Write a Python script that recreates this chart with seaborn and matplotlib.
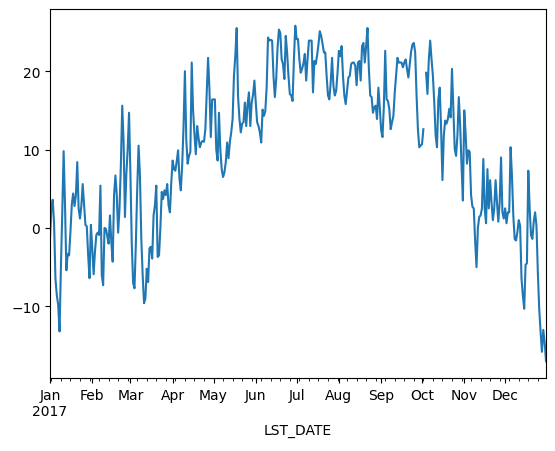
import matplotlib
matplotlib.use("Agg")
import matplotlib.pyplot as plt
import matplotlib.dates as mdates
import numpy as np
import pandas as pd
import seaborn as sns

# daily mean temperature 2017, one list per month (NaN = missing day)
jan = [-1.3, 2.5, 3.6, 0.5, -6.5, -8.6, -9.8, -13.2, -5.0, 2.0, 9.8, 3.0, -5.4,
       -3.3, -3.5, -0.5, 3.0, 4.4, 2.8, 4.2, 8.4, 2.5, 1.2, 2.8, 5.6, 3.0, 0.4,
       0.2, -3.5, -6.4, 0.4]
feb = [-2.6, -5.9, -3.0, -0.9, -0.6, -0.9, 5.4, -6.0, -7.3, 0.0, -0.1, -1.0,
       -2.0, 1.6, -1.8, -4.3, 4.2, 6.7, 4.2, -0.6, 2.5, 8.0, 15.6, 11.0, 1.4,
       6.8, 10.0, 14.7]
mar = [7.0, -2.0, -7.0, -7.7, -2.0, 5.0, 10.5, 6.7, -1.4, -6.0, -9.6, -9.0,
       -5.2, -6.9, -2.6, -2.4, -3.9, 1.6, 2.9, 5.4, -3.7, -3.5, 0.0, 4.6, 3.7,
       4.8, 4.2, 5.6, 2.9, 2.0, 5.8]
apr = [8.6, 7.5, 7.3, 8.5, 9.9, 6.3, 4.8, 8.0, 13.0, 20.0, 11.3, 8.2, 9.2, 9.7,
       21.1, 15.0, 12.0, 9.4, 13.0, 11.5, 10.3, 10.9, 11.1, 11.0, 12.6, 17.3,
       21.7, 17.7, 11.6, 16.4]
may = [16.4, 16.4, 10.0, 8.6, 14.7, 10.0, 7.5, 6.5, 7.1, 8.4, 10.9, 8.9, 11.0,
       12.2, 13.9, 19.4, 22.0, 25.5, 16.8, 14.0, 12.2, 13.3, 13.5, 16.0, 13.0,
       15.8, 17.3, 13.0, 16.0, 17.0, 18.8]
jun = [16.0, 13.5, 13.0, 12.2, 10.9, 15.1, 14.3, 14.9, 18.0, 24.3, 23.9, 24.0,
       23.9, 19.4, 16.7, 19.0, 23.0, 25.3, 24.9, 21.5, 20.9, 19.0, 24.5, 22.4,
       19.4, 17.1, 16.9, 16.2, 21.5, 25.8]
jul = [24.1, 24.1, 21.5, 19.8, 20.3, 21.0, 22.2, 18.8, 21.5, 23.9, 23.9, 23.9,
       17.3, 21.3, 20.9, 22.0, 23.4, 25.1, 24.5, 23.5, 22.4, 22.4, 19.4, 16.9,
       16.4, 18.6, 21.7, 18.1, 16.9, 17.5, 19.8]
aug = [22.6, 21.9, 23.2, 19.4, 16.9, 15.8, 17.5, 19.2, 19.4, 20.9, 21.1, 21.1,
       20.7, 18.2, 21.1, 21.3, 18.8, 23.2, 23.6, 21.1, 23.2, 25.5, 20.3, 16.9,
       16.7, 14.7, 15.4, 15.6, 13.9, 17.9, 15.4]
sep = [12.5, 11.6, 15.5, 22.6, 16.4, 16.2, 15.2, 12.6, 13.5, 14.3, 17.3, 19.5,
       21.7, 21.1, 21.1, 21.1, 20.5, 21.1, 21.5, 20.3, 19.2, 20.8, 22.5, 23.4,
       23.6, 22.4, 16.9, 12.6, 10.3, 10.5]
oct_ = [10.7, 12.6, np.nan, 19.8, 17.1, 21.5, 23.9, 21.5, 19.4, 16.0, 11.8,
        10.3, 16.4, 17.9, 12.7, 6.1, 11.8, 13.7, 13.3, 13.9, 15.2, 14.1, 20.3,
        15.2, 10.1, 9.2, 11.8, 16.7, 13.1, 8.0, 3.5]
nov = [15.0, 12.0, 8.2, 9.9, 9.7, 4.2, 2.7, 2.5, -1.7, -5.0, 0.0, 1.4, 1.6, 2.5,
       8.8, 2.5, 0.6, 7.5, 2.5, 6.1, 3.3, 1.0, 2.5, 6.1, 3.3, 0.8, 3.3, 9.0, 2.0,
       1.2]
dec = [2.5, 0.6, 2.0, 2.0, 10.3, 6.7, 1.6, -1.4, -1.6, -0.5, 1.0, 0.3, -6.4,
       -8.6, -10.3, -4.7, -4.5, 7.3, 2.5, -0.9, -1.4, 0.8, 2.0, 0.3, -5.6, -10.3,
       -13.2, -15.8, -13.0, -14.6, -17.0]

month_labels = ["Jan\n2017", "Feb", "Mar", "Apr", "May", "Jun",
                "Jul", "Aug", "Sep", "Oct", "Nov", "Dec"]

temps = jan + feb + mar + apr + may + jun + jul + aug + sep + oct_ + nov + dec
dates = pd.date_range("2017-01-01", "2017-12-31", freq="D")

df = pd.DataFrame({"LST_DATE": dates, "T_DAILY_MEAN": temps})
# keep the gap at the missing day: separate line pieces
df["part"] = df["T_DAILY_MEAN"].isna().cumsum()
df = df.dropna()

fig, ax = plt.subplots(figsize=(5.55, 4.52), dpi=100)
fig.subplots_adjust(left=0.0901, right=0.9838, top=0.978, bottom=0.1615)

sns.lineplot(data=df, x="LST_DATE", y="T_DAILY_MEAN", units="part",
             estimator=None, color="#1f77b4", linewidth=1.5, ax=ax)

month_starts = pd.date_range("2017-01-01", "2017-12-01", freq="MS")
mondays = [d for d in pd.date_range("2017-01-01", "2017-12-31", freq="W-MON")
           if d.day != 1]
ax.set_xticks(mdates.date2num(month_starts))
ax.set_xticklabels(month_labels)
ax.set_xticks(mdates.date2num(mondays), minor=True)
ax.set_xlim(mdates.date2num(dates[0]), mdates.date2num(dates[-1]))
ax.set_yticks([-10, 0, 10, 20])
ax.set_ylabel("")
ax.set_xlabel("LST_DATE")

fig.savefig("out.png", dpi=100)
